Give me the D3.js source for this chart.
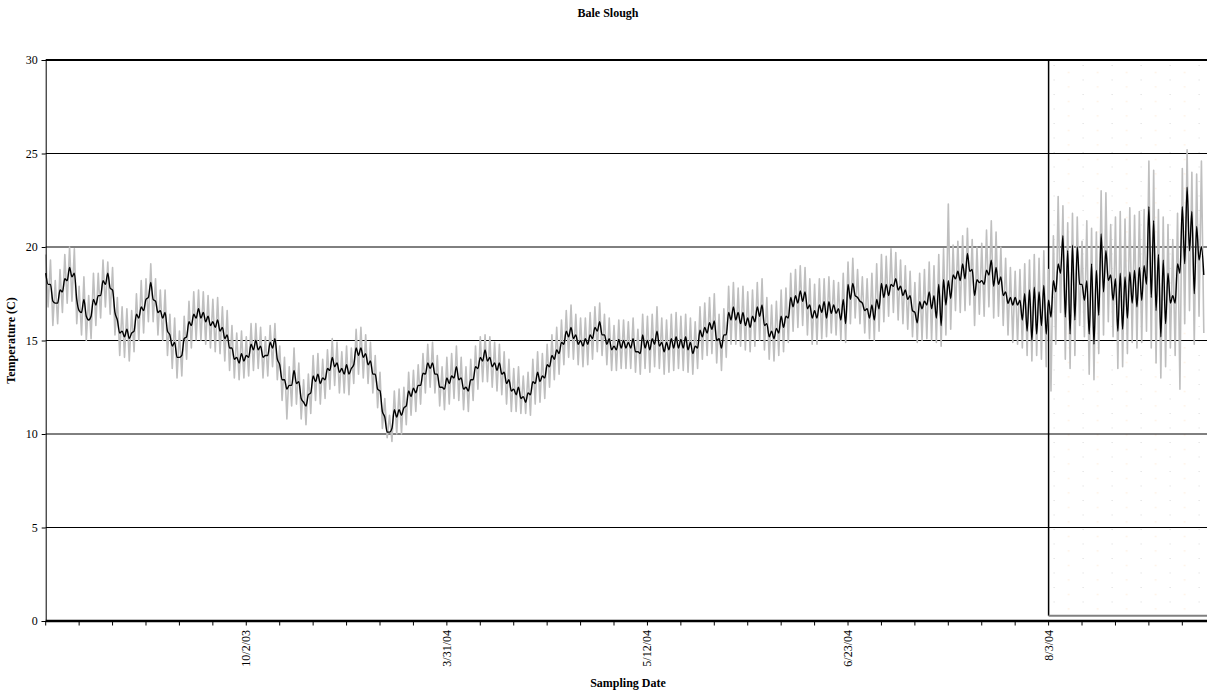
<!DOCTYPE html>
<html>
<head>
<meta charset="utf-8">
<script src="https://cdn.jsdelivr.net/npm/d3@7/dist/d3.min.js"></script>
<style>
html,body{margin:0;padding:0;background:#fff;}
svg{display:block;}
text{font-family:"Liberation Serif","Times New Roman",serif;fill:#000;}
</style>
</head>
<body>
<svg id="chart" width="1207" height="691"></svg>
<script>
// ---- Data (one entry per sampling day; "High" = daytime peak, "Low" = night trough) ----
const title = "Bale Slough";
const yTitle = "Temperature (C)";
const xTitle = "Sampling Date";
const yTicks = [0, 5, 10, 15, 20, 25, 30];
const xLabelDays = [42, 84, 126, 168, 210];
const xLabels = ["10/2/03", "3/31/04", "5/12/04", "6/23/04", "8/3/04"];
const highlightStartDay = 210;
const highlightTop = 30;
const highlightBottom = 0.28;

const blackHigh = [
18.6,18.0,17.0,17.7,18.3,18.9,18.6,16.6,17.2,16.1,17.2,17.4,18.2,18.6,17.7,16.1,15.5,15.6,15.4,16.4,16.8,17.2,18.1,17.1,16.6,16.5,15.3,14.9,14.1,15.1,16.0,16.4,16.7,16.5,16.3,16.0,16.1,15.7,15.3,14.6,14.1,14.3,
14.2,14.8,15.0,14.7,14.2,14.9,15.1,13.7,12.9,12.6,13.4,12.8,11.7,12.1,13.1,13.2,13.0,13.5,14.1,13.8,13.5,13.7,13.5,14.6,14.6,14.3,13.9,13.2,12.3,10.9,10.1,11.3,11.3,11.4,12.3,12.45,12.6,13.25,13.8,13.8,13.2,
12.5,13.0,13.1,13.6,13.0,12.5,12.9,13.6,14.1,14.5,14.1,13.8,13.8,13.3,12.9,12.4,12.5,12.0,12.2,12.8,13.3,13.1,13.7,14.2,14.5,14.9,15.5,15.7,15.3,15.0,15.1,15.3,15.7,16.0,15.3,15.1,14.7,15.05,15.0,14.9,15.1,
14.4,15.3,15.0,15.1,15.5,14.9,14.9,15.1,15.2,15.05,15.2,14.9,14.7,15.55,15.7,15.95,16.05,15.1,15.3,16.5,16.8,16.5,16.5,16.2,16.3,16.8,16.9,15.9,15.5,15.65,16.3,16.3,17.3,17.4,17.65,17.6,16.9,16.6,16.9,
17.07,17.07,16.9,16.7,17.2,18.0,18.05,17.3,17.0,16.7,
16.9,17.2,18.05,18.0,18.0,18.3,17.9,17.7,17.4,16.5,
17.07,17.1,17.6,17.4,18.0,18.25,18.2,18.5,18.7,19.1,
19.65,18.8,18.25,18.2,18.76,19.3,18.9,18.4,17.6,17.3,
17.3,17.15,17.5,17.7,17.85,17.6,17.95,17.15,18.2,19.1,
20.6,19.8,20.1,20.0,18.0,18.2,19.1,18.75,20.7,19.8,
18.5,18.3,18.6,18.4,18.65,18.75,18.9,19.0,22.15,21.4,
19.6,19.3,18.6,17.4,19.1,22.15,23.2,21.9,21.1,20.0
];
const blackLow = [
18.0,17.1,17.0,17.6,18.2,18.4,17.2,16.5,16.3,16.3,16.9,17.4,18.0,17.8,16.5,15.4,15.2,15.1,15.5,16.2,16.6,17.3,17.2,16.5,16.2,15.5,14.7,14.1,14.2,15.2,15.8,16.2,16.2,16.0,15.8,15.7,15.5,15.1,14.6,14.0,13.8,13.9,
14.1,14.5,14.5,14.1,14.2,14.6,14.0,12.9,12.4,12.6,12.7,11.9,11.5,12.2,12.8,12.7,12.9,13.4,13.6,13.3,13.2,13.2,13.7,14.2,14.1,13.7,13.2,12.4,11.2,10.1,10.3,10.9,11.0,11.5,12.0,12.2,12.6,13.2,13.5,13.2,12.5,
12.4,12.7,13.0,12.9,12.4,12.3,12.9,13.5,13.9,13.9,13.6,13.4,13.2,12.7,12.3,12.1,11.9,11.7,12.1,12.7,12.8,13.0,13.6,14.0,14.3,14.8,15.2,15.1,14.8,14.7,14.8,15.1,15.5,15.3,14.8,14.5,14.5,14.6,14.6,14.6,14.4,
14.3,14.6,14.5,14.8,14.7,14.4,14.5,14.6,14.6,14.6,14.5,14.3,14.6,15.2,15.4,15.6,15.0,14.6,15.3,16.1,16.1,15.9,15.8,15.7,16.0,16.3,15.8,15.2,15.1,15.4,15.7,16.2,16.8,17.0,17.1,16.7,16.2,16.2,16.5,
16.2,16.45,16.45,16.1,15.9,17.2,17.4,17.1,16.6,16.2,
16.1,16.7,17.3,17.4,17.9,17.7,17.4,17.2,16.6,15.95,
16.7,16.9,16.7,16.2,15.8,16.9,17.25,18.3,18.2,18.3,
18.7,17.4,18.1,18.0,18.5,17.9,18.0,17.4,16.98,16.9,
16.9,16.1,15.5,15.0,15.35,15.8,15.35,16.25,17.6,18.6,
16.25,15.35,16.1,18.0,17.15,15.35,14.8,16.35,17.6,18.2,
17.15,15.5,15.6,16.2,17.0,16.8,17.15,18.0,17.3,16.6,
15.2,15.9,17.0,17.0,18.6,19.1,19.8,17.5,19.3,18.5
];
const greyHigh = [
19.6,19.3,18.2,18.8,19.6,20.0,19.9,17.9,18.4,17.4,18.6,18.6,19.3,19.2,18.9,17.3,16.8,16.7,16.6,17.5,18.2,18.3,19.1,18.3,17.7,17.7,16.4,16.2,15.5,16.3,17.1,17.6,17.7,17.6,17.4,17.2,17.3,16.8,16.6,15.8,15.4,15.5,
15.2,15.9,15.9,15.7,15.2,15.8,15.9,14.7,14.1,13.6,14.6,13.8,12.9,13.2,14.2,14.3,14.0,14.5,15.1,14.9,14.4,14.7,14.6,15.6,15.7,15.3,14.9,14.2,13.3,11.9,11.0,12.3,12.4,12.5,13.3,13.4,13.7,14.3,14.8,14.9,14.2,
13.6,14.1,14.3,14.7,14.1,13.6,14.0,14.7,15.2,15.3,15.2,14.9,14.8,14.4,14.0,13.5,13.6,13.1,13.3,14.0,14.4,14.3,14.8,15.3,15.7,16.1,16.6,16.9,16.4,16.2,16.2,16.5,16.8,17.0,16.4,16.2,15.8,16.1,16.1,16.0,16.2,
15.6,16.4,16.3,16.4,16.8,16.2,16.1,16.4,16.5,16.3,16.4,16.2,16.0,16.8,17.0,17.3,17.5,16.4,16.7,17.9,18.1,17.8,17.9,17.6,17.7,18.1,18.3,17.3,16.9,17.1,17.7,17.8,18.6,18.8,19.0,18.9,18.3,18.0,18.3,
18.3,18.4,18.2,18.1,18.6,19.2,19.4,18.8,18.4,18.3,
18.6,19.1,19.6,19.5,19.9,19.7,19.3,19.0,18.7,18.1,
18.6,18.8,19.2,19.0,19.6,19.9,22.3,20.1,20.3,20.6,
21.0,20.4,20.0,20.2,20.9,21.4,20.8,20.0,19.4,18.9,
18.7,18.8,19.1,19.3,19.6,19.4,19.8,18.8,20.6,22.7,
22.2,21.3,21.8,21.6,20.3,21.4,21.0,20.8,23.0,22.9,
21.2,21.6,21.9,21.5,22.1,21.7,21.9,22.0,24.6,24.1,
22.0,21.6,21.2,20.4,21.8,24.2,25.2,24.0,23.9,24.6
];
const greyLow = [
16.8,15.8,15.9,16.5,17.0,17.1,15.9,15.3,15.0,15.1,15.8,16.2,16.8,16.4,15.3,14.2,14.1,13.9,14.4,15.0,15.4,16.0,16.0,15.3,15.0,14.2,13.5,13.0,13.1,14.0,14.6,15.0,15.0,14.8,14.6,14.4,14.3,13.9,13.4,13.0,12.9,13.0,
13.1,13.4,13.5,13.0,13.1,13.6,12.9,11.8,10.8,11.5,11.6,10.8,10.5,11.1,11.8,11.6,11.9,12.4,12.6,12.2,12.2,12.1,12.7,13.2,13.0,12.7,12.2,11.4,10.3,9.8,9.6,10.0,10.0,10.5,11.0,11.2,11.6,12.2,12.5,12.2,11.5,
11.3,11.6,11.9,11.8,11.3,11.2,11.8,12.4,12.8,12.8,12.5,12.3,12.1,11.6,11.2,11.2,11.1,11.1,11.0,11.6,11.7,11.9,12.5,12.9,13.2,13.7,14.1,14.0,13.7,13.6,13.7,14.0,14.4,14.2,13.7,13.4,13.4,13.5,13.5,13.5,13.3,
13.2,13.5,13.3,13.6,13.5,13.2,13.3,13.4,13.5,13.4,13.3,13.2,13.5,14.0,14.2,14.3,13.8,13.4,14.1,14.8,14.8,14.7,14.5,14.4,14.7,15.0,14.5,14.0,13.9,14.2,14.4,14.9,15.5,15.7,15.8,15.3,14.8,14.8,15.1,
15.2,15.4,15.3,15.0,14.9,15.9,16.2,15.9,15.4,15.1,
15.0,15.5,16.0,16.3,16.5,16.1,15.9,15.6,15.2,14.9,
15.0,15.1,15.0,14.9,14.7,15.3,15.6,16.6,16.5,16.6,
16.9,15.8,16.4,16.3,16.8,16.2,16.3,15.8,15.3,14.9,
14.8,14.6,14.2,13.9,14.2,14.0,13.6,12.3,14.8,16.5,
14.0,13.5,14.2,15.8,15.2,13.2,12.9,14.3,15.3,16.0,
15.2,13.5,13.6,14.3,14.9,14.6,14.9,15.5,14.6,13.8,
13.0,13.6,14.6,14.2,12.4,15.9,16.6,14.8,16.3,15.4
];

// ---- Build series: peak at day d, trough at day d + 0.5 ----
function interleave(hi, lo) {
  const out = [];
  for (let i = 0; i < hi.length; i++) {
    out.push({ day: i, v: hi[i] });
    out.push({ day: i + 0.5, v: lo[i] });
  }
  return out;
}
const greySeries = interleave(greyHigh, greyLow);
const blackSeries = interleave(blackHigh, blackLow);

// ---- Layout ----
const W = 1207, H = 691;
const plotLeft = 45.7, plotTop = 60, plotBottom = 621;
const dayPx = 33.43 / 7;
const maxDay = 245;

const svg = d3.select("#chart");
const x = d3.scaleLinear().domain([0, maxDay]).range([plotLeft, plotLeft + maxDay * dayPx]);
const y = d3.scaleLinear().domain([0, 30]).range([plotBottom, plotTop]);

// dotted pattern for highlighted period
const defs = svg.append("defs");
const pat = defs.append("pattern").attr("id", "dots").attr("patternUnits", "userSpaceOnUse")
  .attr("width", 29).attr("height", 14.5).attr("x", x(highlightStartDay) + 5).attr("y", plotTop + 5);
pat.append("rect").attr("x", 0).attr("y", 0).attr("width", 1).attr("height", 1).attr("fill", "#d8d8d8");
pat.append("rect").attr("x", 14.5).attr("y", 7).attr("width", 1).attr("height", 1).attr("fill", "#fbdcbc");

// highlight box
svg.append("rect")
  .attr("x", x(highlightStartDay)).attr("y", y(highlightTop))
  .attr("width", W - x(highlightStartDay) + 5).attr("height", y(highlightBottom) - y(highlightTop))
  .attr("fill", "url(#dots)");

// gridlines
svg.append("g").selectAll("line").data(yTicks.filter(t => t > 0 && t < 30)).join("line")
  .attr("x1", plotLeft).attr("x2", W)
  .attr("y1", d => y(d)).attr("y2", d => y(d))
  .attr("stroke", "#000").attr("stroke-width", 1);

// highlight box borders
svg.append("line")
  .attr("x1", x(highlightStartDay)).attr("x2", x(highlightStartDay))
  .attr("y1", y(highlightTop)).attr("y2", y(highlightBottom))
  .attr("stroke", "#000").attr("stroke-width", 1.5);
svg.append("line")
  .attr("x1", x(highlightStartDay)).attr("x2", W)
  .attr("y1", y(highlightBottom)).attr("y2", y(highlightBottom))
  .attr("stroke", "#808080").attr("stroke-width", 2);

// data lines
const lineGrey = d3.line().x(d => x(d.day)).y(d => y(d.v));
const lineBlack = d3.line().x(d => x(d.day)).y(d => y(d.v)).curve(d3.curveMonotoneX);
svg.append("path").datum(greySeries)
  .attr("d", lineGrey).attr("fill", "none")
  .attr("stroke", "#bfbfbf").attr("stroke-width", 1.6).attr("stroke-linejoin", "round");
svg.append("path").datum(blackSeries)
  .attr("d", lineBlack).attr("fill", "none")
  .attr("stroke", "#000").attr("stroke-width", 1.4).attr("stroke-linejoin", "round");

// top border (30 line)
svg.append("line").attr("x1", plotLeft).attr("x2", W)
  .attr("y1", y(30)).attr("y2", y(30)).attr("stroke", "#000").attr("stroke-width", 2);

// y axis
const yAxis = d3.axisLeft(y).tickValues(yTicks).tickSize(4).tickPadding(4).tickFormat(d3.format("d"));
const gy = svg.append("g").attr("transform", `translate(${plotLeft},0)`).call(yAxis);
gy.select(".domain").attr("stroke", "#000").attr("stroke-width", 1);
gy.selectAll(".tick line").attr("stroke", "#000");
gy.selectAll("text").style("font-size", "12px").style("font-family", '"Liberation Serif", serif');

// x axis (weekly category ticks)
const weekTicks = d3.range(0, maxDay + 1, 7);
const gx = svg.append("g").attr("transform", `translate(0,${plotBottom})`);
gx.append("line").attr("x1", plotLeft).attr("x2", W).attr("y1", 0).attr("y2", 0)
  .attr("stroke", "#000").attr("stroke-width", 2.6);
gx.selectAll("line.tk").data(weekTicks).join("line").attr("class", "tk")
  .attr("x1", d => x(d)).attr("x2", d => x(d)).attr("y1", 0).attr("y2", 4.5)
  .attr("stroke", "#000").attr("stroke-width", 1);
gx.selectAll("text.lbl").data(xLabelDays).join("text").attr("class", "lbl")
  .attr("transform", d => `translate(${x(d)},9) rotate(-90)`)
  .attr("text-anchor", "end").attr("dy", "0.33em")
  .style("font-size", "12px")
  .text((d, i) => xLabels[i]);

// titles
svg.append("text").attr("x", 608).attr("y", 17).attr("text-anchor", "middle")
  .style("font-size", "12px").style("font-weight", "bold").text(title);
svg.append("text").attr("x", 628).attr("y", 687).attr("text-anchor", "middle")
  .style("font-size", "12px").style("font-weight", "bold").text(xTitle);
svg.append("text").attr("transform", `translate(15,${(plotTop + plotBottom) / 2}) rotate(-90)`)
  .attr("text-anchor", "middle")
  .style("font-size", "12px").style("font-weight", "bold").text(yTitle);
</script>
</body>
</html>
